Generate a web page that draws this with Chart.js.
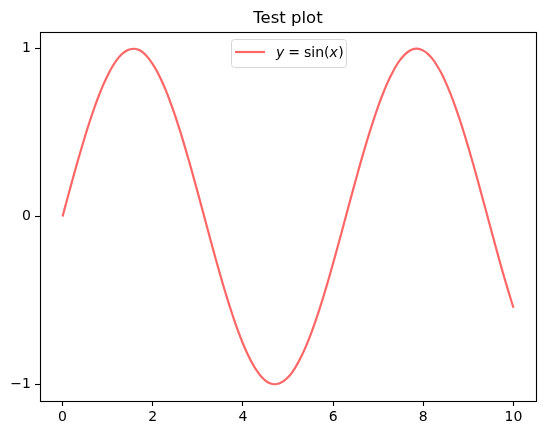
<!DOCTYPE html>
<html>
<head>
<meta charset="utf-8">
<script src="https://cdn.jsdelivr.net/npm/chart.js@4.4.1/dist/chart.umd.min.js"></script>
<style>
html, body { margin: 0; padding: 0; background: #fff; }
canvas { display: block; }
</style>
</head>
<body>
<canvas id="plot" width="546" height="435"></canvas>
<script>
// values
const xValues = [
    0.0, 0.1, 0.2, 0.3, 0.4, 0.5, 0.6, 0.7, 0.8, 0.9,
    1.0, 1.1, 1.2, 1.3, 1.4, 1.5, 1.6, 1.7, 1.8, 1.9,
    2.0, 2.1, 2.2, 2.3, 2.4, 2.5, 2.6, 2.7, 2.8, 2.9,
    3.0, 3.1, 3.2, 3.3, 3.4, 3.5, 3.6, 3.7, 3.8, 3.9,
    4.0, 4.1, 4.2, 4.3, 4.4, 4.5, 4.6, 4.7, 4.8, 4.9,
    5.0, 5.1, 5.2, 5.3, 5.4, 5.5, 5.6, 5.7, 5.8, 5.9,
    6.0, 6.1, 6.2, 6.3, 6.4, 6.5, 6.6, 6.7, 6.8, 6.9,
    7.0, 7.1, 7.2, 7.3, 7.4, 7.5, 7.6, 7.7, 7.8, 7.9,
    8.0, 8.1, 8.2, 8.3, 8.4, 8.5, 8.6, 8.7, 8.8, 8.9,
    9.0, 9.1, 9.2, 9.3, 9.4, 9.5, 9.6, 9.7, 9.8, 9.9,
    10.0];
const yValues = [
    0.000, 0.100, 0.199, 0.296, 0.389, 0.479, 0.565, 0.644, 0.717, 0.783,
    0.841, 0.891, 0.932, 0.964, 0.985, 0.997, 1.000, 0.992, 0.974, 0.946,
    0.909, 0.863, 0.808, 0.746, 0.675, 0.598, 0.516, 0.427, 0.335, 0.239,
    0.141, 0.042, -0.058, -0.158, -0.256, -0.351, -0.443, -0.530, -0.612, -0.688,
    -0.757, -0.818, -0.872, -0.916, -0.952, -0.978, -0.994, -1.000, -0.996, -0.982,
    -0.959, -0.926, -0.883, -0.832, -0.773, -0.706, -0.631, -0.551, -0.465, -0.374,
    -0.279, -0.182, -0.083, 0.017, 0.117, 0.215, 0.312, 0.405, 0.494, 0.578,
    0.657, 0.729, 0.794, 0.850, 0.899, 0.938, 0.968, 0.988, 0.999, 0.999,
    0.989, 0.970, 0.941, 0.902, 0.855, 0.798, 0.734, 0.663, 0.585, 0.501,
    0.412, 0.319, 0.223, 0.124, 0.025, -0.075, -0.174, -0.272, -0.367, -0.457,
    -0.544];
const xTicks = [0, 2, 4, 6, 8, 10];
const yTicks = [-1, 0, 1];
const titleText = 'Test plot';

const FONT = '"DejaVu Sans", sans-serif';
const lineColor = '#ff6666';

const fmt = v => (v < 0 ? '\u2212' + Math.abs(v) : String(v));

// frame, title and the mathtext-style legend
const decorations = {
    id: 'decorations',
    afterDatasetsDraw(chart) {
        const ctx = chart.ctx;
        const a = chart.chartArea;
        ctx.save();
        ctx.strokeStyle = '#000';
        ctx.lineWidth = 1.1;
        ctx.strokeRect(Math.round(a.left) + 0.5, Math.round(a.top) + 0.5,
            Math.round(a.right - a.left), Math.round(a.bottom - a.top));

        // legend box
        const bx = 231.5, by = 39.5, bw = 115, bh = 28, r = 3;
        ctx.beginPath();
        ctx.moveTo(bx + r, by);
        ctx.arcTo(bx + bw, by, bx + bw, by + bh, r);
        ctx.arcTo(bx + bw, by + bh, bx, by + bh, r);
        ctx.arcTo(bx, by + bh, bx, by, r);
        ctx.arcTo(bx, by, bx + bw, by, r);
        ctx.closePath();
        ctx.fillStyle = 'rgba(255,255,255,0.8)';
        ctx.fill();
        ctx.strokeStyle = '#d6d6d6';
        ctx.lineWidth = 1;
        ctx.stroke();

        ctx.strokeStyle = lineColor;
        ctx.lineWidth = 2.2;
        ctx.beginPath();
        ctx.moveTo(235, 52);
        ctx.lineTo(265, 52);
        ctx.stroke();

        const parts = [
            ['y', 'italic', 0], ['=', 'normal', 4], ['sin', 'normal', 4],
            ['(', 'normal', 0], ['x', 'italic', 0], [')', 'normal', 0.5]
        ];
        let tx = 276;
        const base = 57;
        ctx.fillStyle = '#000';
        ctx.textBaseline = 'alphabetic';
        ctx.textAlign = 'left';
        parts.forEach(([s, style, gap]) => {
            tx += gap;
            ctx.font = style + ' 14px ' + FONT;
            ctx.fillText(s, tx, base);
            tx += ctx.measureText(s).width;
        });

        ctx.restore();
    },
    afterDraw(chart) {
        const ctx = chart.ctx;
        const a = chart.chartArea;
        ctx.save();
        ctx.font = '16.5px ' + FONT;
        ctx.fillStyle = '#000';
        ctx.textAlign = 'center';
        ctx.textBaseline = 'alphabetic';
        ctx.fillText(titleText, (a.left + a.right) / 2, 23);
        ctx.restore();
    }
};

new Chart(document.getElementById('plot'), {
    type: 'line',
    data: {
        datasets: [{
            label: 'y = sin(x)',
            data: xValues.map((x, i) => ({ x: x, y: yValues[i] })),
            borderColor: lineColor,
            borderWidth: 2.2,
            pointRadius: 0,
            fill: false,
            tension: 0.2
        }]
    },
    options: {
        responsive: false,
        animation: false,
        devicePixelRatio: 1,
        layout: { padding: { top: 32, right: 10, left: 0, bottom: 0 } },
        plugins: {
            legend: { display: false },
            title: { display: false },
            tooltip: { enabled: false }
        },
        scales: {
            x: {
                type: 'linear',
                min: -0.5,
                max: 10.5,
                afterBuildTicks: s => { s.ticks = xTicks.map(v => ({ value: v })); },
                afterFit: s => { s.height = 34; },
                border: { display: false },
                grid: { drawOnChartArea: false, drawTicks: true, tickLength: 5, tickColor: '#000', tickWidth: 1.1 },
                ticks: { color: '#000', padding: 3, maxRotation: 0, font: { family: FONT, size: 14 }, callback: fmt }
            },
            y: {
                min: -1.1,
                max: 1.1,
                afterBuildTicks: s => { s.ticks = yTicks.map(v => ({ value: v })); },
                afterFit: s => { s.width = 40; },
                border: { display: false },
                grid: { drawOnChartArea: false, drawTicks: true, tickLength: 5, tickColor: '#000', tickWidth: 1.1 },
                ticks: { color: '#000', padding: 4, font: { family: FONT, size: 14 }, callback: fmt }
            }
        }
    },
    plugins: [decorations]
});
</script>
</body>
</html>
